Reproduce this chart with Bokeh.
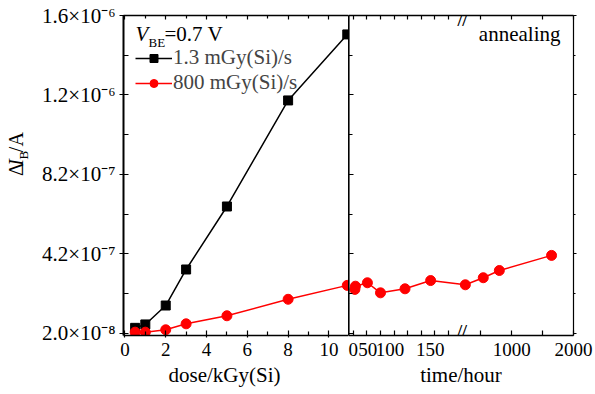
from math import pi
from bokeh.plotting import figure
from bokeh.layouts import row
from bokeh.models import Range1d, FixedTicker, LinearAxis, Label, Legend, LegendItem, Title
from bokeh.embed import file_html
from bokeh.resources import INLINE

# ---------------- data ----------------
dose_kgy = [0.5, 1.0, 2.0, 3.0, 5.0, 8.0, 10.9]
dib_low_rate = [4.8e-8, 6.5e-8, 1.59e-7, 3.38e-7, 6.51e-7, 1.178e-6, 1.506e-6]   # 1.3 mGy(Si)/s
dib_high_rate = [2.65e-8, 2.65e-8, 3.84e-8, 6.8e-8, 1.08e-7, 1.90e-7, 2.59e-7]  # 800 mGy(Si)/s

anneal_hours = [3, 4, 26, 50, 95, 142, 250, 540, 800, 1645]
dib_anneal = [2.39e-7, 2.55e-7, 2.72e-7, 2.22e-7, 2.42e-7, 2.83e-7, 2.62e-7, 2.97e-7, 3.33e-7, 4.08e-7]

y_tick_values = [2.0e-8, 4.15e-7, 8.1e-7, 1.205e-6, 1.6e-6]
y_tick_labels = ["2.0×10⁻⁸", "4.2×10⁻⁷", "8.2×10⁻⁷", "1.2×10⁻⁶", "1.6×10⁻⁶"]
dose_ticks = [0, 2, 4, 6, 8, 10]
dose_minor = [1, 3, 5, 7, 9]
hour_ticks = [0, 25, 50, 75, 100, 125, 150, 175, 500, 1000, 1500, 2000]
time_labels = ["0", "50", "100", "150", "1000", "2000"]
time_label_at = [-3.5, 26.5, 67.4, 141.1, 1000, 2000]   # where the reference prints them (hours)

legend_labels = ["1.3 mGy(Si)/s", "800 mGy(Si)/s"]

# ---------------- broken time axis ----------------
BREAK_H = 200
SEG2_SCALE = 0.1134


def hours_to_axis(h):
    return h if h <= BREAK_H else BREAK_H + (h - BREAK_H) * SEG2_SCALE


FONT = "Liberation Serif"
FS = "21px"
FS_TICK_X = "19px"

H = 393
W0 = 34                      # strip that carries the y-axis title
F1_LEFT, F1_RIGHT = 123, 348
F2_LEFT, F2_RIGHT = 348, 573
F_TOP, F_BOT = 15, 335

X1_START, X1_END = -0.07, 10.96
X2_START, X2_END = -8.7, hours_to_axis(2000)
Y_START, Y_END = 1.0e-8, 1.6e-6


def x1_at(px):
    return X1_START + (px - F1_LEFT) * (X1_END - X1_START) / (F1_RIGHT - F1_LEFT)


def x2_at(px):
    return X2_START + (px - F2_LEFT) * (X2_END - X2_START) / (F2_RIGHT - F2_LEFT)


def y_at(px):
    return Y_END - (px - F_TOP) * (Y_END - Y_START) / (F_BOT - F_TOP)


y_range = Range1d(Y_START, Y_END)
y_minor = [(a + b) / 2 for a, b in zip(y_tick_values[:-1], y_tick_values[1:])]


def base_axis(ax, lw=1.5, size=FS):
    ax.axis_line_color = "black"
    ax.axis_line_width = lw
    ax.major_tick_line_color = "black"
    ax.minor_tick_line_color = "black"
    ax.major_tick_line_width = 1.2
    ax.minor_tick_line_width = 1.2
    ax.major_label_text_font = FONT
    ax.major_label_text_font_size = size
    ax.major_label_text_color = "black"
    ax.axis_label = None


def hidden_labels(ax):
    ax.major_label_text_font_size = "0px"
    ax.major_label_text_color = None
    ax.major_label_standoff = 0


def lab(p, x, y, text, size=FS, style="normal", **kw):
    p.add_layout(Label(x=x, y=y, text=text, text_font=FONT, text_font_size=size,
                       text_font_style=style, text_color="black", **kw))


# ---------------- strip with the y-axis title ----------------
p0 = figure(width=W0, height=H, x_range=Range1d(0, W0), y_range=Range1d(H, 0),
            output_backend="svg", toolbar_location=None,
            x_axis_location=None, y_axis_location=None,
            min_border_left=0, min_border_right=0, min_border_top=0, min_border_bottom=0)
p0.outline_line_color = None
p0.grid.visible = False
lab(p0, 26, 197, "Δ", size="20px", angle=pi / 2)
lab(p0, 26, 184.5, "I", size="20px", style="italic", angle=pi / 2)
lab(p0, 30, 177, "B", size="13px", angle=pi / 2)
lab(p0, 26, 167.8, "/A", size="20px", angle=pi / 2)

# ---------------- left panel: dose ----------------
p1 = figure(width=F1_RIGHT - W0, height=H, x_range=Range1d(X1_START, X1_END), y_range=y_range,
            output_backend="svg", toolbar_location=None,
            min_border_left=F1_LEFT - W0, min_border_right=0,
            min_border_top=F_TOP, min_border_bottom=H - F_BOT)
p1.outline_line_color = None
p1.grid.visible = False

ya = p1.yaxis[0]
base_axis(ya, 2)
ya.ticker = FixedTicker(ticks=y_tick_values, minor_ticks=y_minor)
ya.major_label_overrides = dict(zip(y_tick_values, y_tick_labels))
ya.major_tick_in, ya.major_tick_out = 5, 4
ya.minor_tick_in, ya.minor_tick_out = 5, 0
ya.major_label_standoff = 4

xa = p1.xaxis[0]
base_axis(xa, size=FS_TICK_X)
xa.ticker = FixedTicker(ticks=dose_ticks, minor_ticks=dose_minor)
xa.major_tick_in, xa.major_tick_out = 5, 2
xa.minor_tick_in, xa.minor_tick_out = 4, 0
xa.major_label_standoff = 5

top1 = LinearAxis(ticker=FixedTicker(ticks=dose_ticks, minor_ticks=dose_minor))
base_axis(top1)
hidden_labels(top1)
top1.major_tick_in, top1.major_tick_out = 4, 0
top1.minor_tick_in, top1.minor_tick_out = 3, 0
p1.add_layout(top1, "above")

p1.add_layout(Title(text="dose/kGy(Si)", align="left", offset=45, standoff=5,
                    text_font=FONT, text_font_size=FS, text_font_style="normal",
                    text_color="black"), "below")

lb = p1.line(dose_kgy, dib_low_rate, line_color="black", line_width=1.5)
sb = p1.scatter(dose_kgy, dib_low_rate, marker="square", size=9, color="black")
lr = p1.line(dose_kgy, dib_high_rate, line_color="#ff0000", line_width=1.5)
sr = p1.scatter(dose_kgy, dib_high_rate, marker="circle", size=10, color="#ff0000")

legend = Legend(items=[LegendItem(label=legend_labels[0], renderers=[lb, sb]),
                       LegendItem(label=legend_labels[1], renderers=[lr, sr])],
                location=(12, 240), padding=0, margin=0, spacing=0,
                glyph_width=37, glyph_height=20, label_height=20, label_standoff=1,
                label_text_font=FONT, label_text_font_size=FS, label_text_line_height=1.0,
                border_line_color=None, background_fill_alpha=0)
p1.add_layout(legend)

# legend title  V_BE = 0.7 V
lab(p1, x1_at(135), y_at(45), "V", style="italic")
lab(p1, x1_at(148), y_at(49), "BE", size="13px")
lab(p1, x1_at(164), y_at(45), "=0.7 V")

# ---------------- right panel: annealing time ----------------
p2 = figure(width=(F2_RIGHT - F2_LEFT) + 20, height=H, x_range=Range1d(X2_START, X2_END),
            y_range=y_range, output_backend="svg", toolbar_location=None,
            min_border_left=0, min_border_right=20,
            min_border_top=F_TOP, min_border_bottom=H - F_BOT)
p2.outline_line_color = None
p2.grid.visible = False

ya2 = p2.yaxis[0]
base_axis(ya2, 2.2)
hidden_labels(ya2)
ya2.ticker = FixedTicker(ticks=y_tick_values, minor_ticks=y_minor)
ya2.major_tick_in, ya2.major_tick_out = 5, 0
ya2.minor_tick_in, ya2.minor_tick_out = 4, 0

hour_axis_ticks = [hours_to_axis(h) for h in hour_ticks]
label_axis_pos = [hours_to_axis(h) for h in time_label_at]
xa2 = p2.xaxis[0]
base_axis(xa2, size=FS_TICK_X)
xa2.ticker = FixedTicker(ticks=label_axis_pos, minor_ticks=hour_axis_ticks)
xa2.major_label_overrides = dict(zip(label_axis_pos, time_labels))
xa2.major_tick_in, xa2.major_tick_out = 0, 0
xa2.minor_tick_in, xa2.minor_tick_out = 5, 0
xa2.major_label_standoff = 7

top2 = LinearAxis(ticker=FixedTicker(ticks=[], minor_ticks=hour_axis_ticks))
base_axis(top2)
hidden_labels(top2)
top2.major_tick_in, top2.major_tick_out = 0, 0
top2.minor_tick_in, top2.minor_tick_out = 4, 0
p2.add_layout(top2, "above")

right2 = LinearAxis(ticker=FixedTicker(ticks=y_tick_values, minor_ticks=y_minor))
base_axis(right2, 1.2)
hidden_labels(right2)
right2.major_tick_in, right2.major_tick_out = 0, 3
right2.minor_tick_in, right2.minor_tick_out = 0, 2
p2.add_layout(right2, "right")

p2.add_layout(Title(text="time/hour", align="center", standoff=5,
                    text_font=FONT, text_font_size=FS, text_font_style="normal",
                    text_color="black"), "below")

anneal_axis = [hours_to_axis(h) for h in anneal_hours]
p2.line(anneal_axis, dib_anneal, line_color="#ff0000", line_width=1.5)
p2.scatter(anneal_axis, dib_anneal, marker="circle", size=10, color="#ff0000")

# axis-break marks
lab(p2, hours_to_axis(BREAK_H), y_at(F_BOT - 5), "//", size="17px", style="bold",
    text_align="center", text_baseline="middle")
lab(p2, hours_to_axis(BREAK_H), y_at(F_TOP + 5), "//", size="17px", style="bold",
    text_align="center", text_baseline="middle")

lab(p2, x2_at(560), y_at(45), "annealing", text_align="right")

layout = row(p0, p1, p2)
open("out.html", "w").write(file_html(layout, INLINE))
